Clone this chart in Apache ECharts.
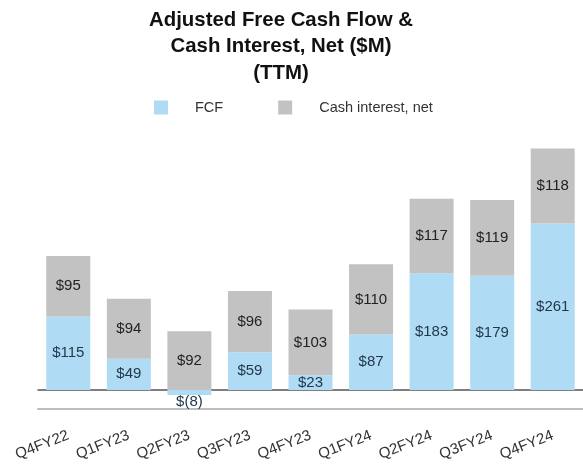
<!DOCTYPE html>
<html>
<head>
<meta charset="utf-8">
<script src="https://cdn.jsdelivr.net/npm/echarts@6/dist/echarts.min.js"></script>
<style>
  html, body { margin: 0; padding: 0; background: #fff; }
  #main { width: 583px; height: 472px; }
</style>
</head>
<body>
<div id="main"></div>
<script>
var categories = ['Q4FY22', 'Q1FY23', 'Q2FY23', 'Q3FY23', 'Q4FY23', 'Q1FY24', 'Q2FY24', 'Q3FY24', 'Q4FY24']
var fcf = [115, 49, -8, 59, 23, 87, 183, 179, 261]
var cashInterest = [95, 94, 92, 96, 103, 110, 117, 119, 118]

function money (v) {
    return v < 0 ? '$(' + Math.abs(v) + ')' : '$' + v
}

var chart = echarts.init(document.getElementById('main'))

// negative FCF label sits under the bar
var fcfData = fcf.map(function (v) {
    if (v < 0) return {value: v, label: {position: 'bottom', distance: -1}}
    return v
})

var option = {
    animation: false,
    title: {
        text: 'Adjusted Free Cash Flow &\nCash Interest, Net ($M)\n(TTM)',
        left: 281,
        top: 7,
        padding: 0,
        textAlign: 'center',
        textStyle: {
            fontFamily: 'Liberation Sans',
            fontSize: 20.4,
            fontWeight: 'bold',
            color: '#111',
            lineHeight: 26.5
        }
    },
    legend: {
        left: 149,
        top: 95,
        itemWidth: 14,
        itemHeight: 14,
        itemGap: 55,
        icon: 'rect',
        data: ['FCF', 'Cash interest, net'],
        textStyle: {
            fontFamily: 'Liberation Sans',
            fontSize: 14.5,
            color: '#333',
            padding: [0, 0, 0, 22]
        }
    },
    grid: {
        left: 38,
        top: 135,
        width: 549,
        bottom: 63
    },
    xAxis: [{
        type: 'category',
        data: categories,
        axisLine: {onZero: false, lineStyle: {color: '#bdbdbd', width: 2}},
        axisTick: {show: false},
        axisLabel: {
            rotate: 21,
            margin: 26,
            fontFamily: 'Liberation Sans',
            fontSize: 15,
            color: '#333'
        }
    }, {
        type: 'category',
        data: categories,
        position: 'top',
        axisLine: {onZero: true, lineStyle: {color: '#555', width: 1.5}},
        axisTick: {show: false},
        axisLabel: {show: false}
    }],
    yAxis: {
        type: 'value',
        min: -30,
        max: 400,
        show: false,
        splitLine: {show: false}
    },
    series: [{
        name: 'FCF',
        type: 'bar',
        stack: 'total',
        barWidth: 44,
        data: fcfData,
        itemStyle: {color: '#afdbf4'},
        label: {
            show: true,
            position: 'inside',
            formatter: function (p) { return money(p.value) },
            fontFamily: 'Liberation Sans',
            fontSize: 15,
            color: '#23384c'
        }
    }, {
        name: 'Cash interest, net',
        type: 'bar',
        stack: 'total',
        barWidth: 44,
        data: cashInterest,
        itemStyle: {color: '#c2c2c2'},
        label: {
            show: true,
            position: 'inside',
            formatter: function (p) { return money(p.value) },
            fontFamily: 'Liberation Sans',
            fontSize: 15,
            color: '#222'
        }
    }]
}
chart.setOption(option)
</script>
</body>
</html>
